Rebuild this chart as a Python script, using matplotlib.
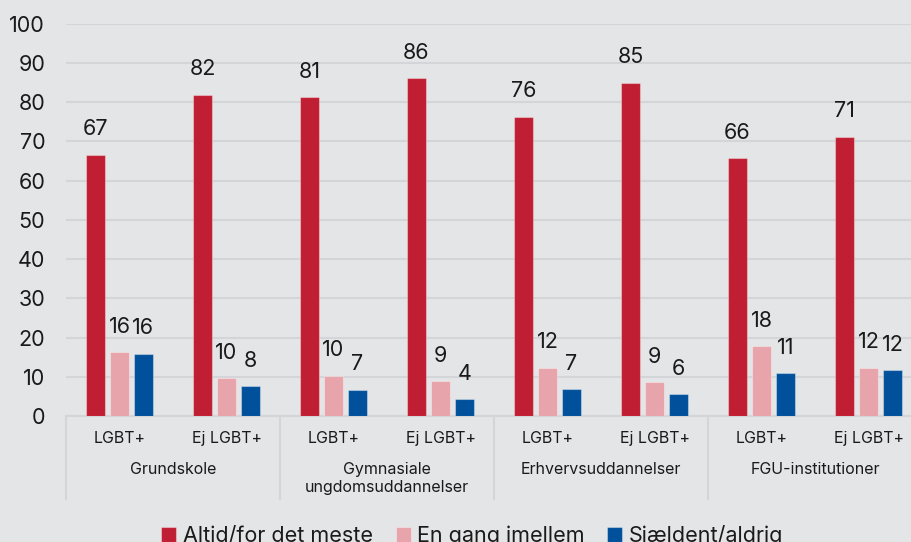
import matplotlib
matplotlib.use("Agg")
import matplotlib.pyplot as plt
import matplotlib.transforms as mtransforms
import numpy as np

plt.rcParams['font.family'] = ['Inter', 'DejaVu Sans']

# data
sub_labels = ["LGBT+", "Ej LGBT+"] * 4
groups = ["Grundskole", "Gymnasiale\nungdomsuddannelser", "Erhvervsuddannelser", "FGU-institutioner"]
series = ["Altid/for det meste", "En gang imellem", "Sjældent/aldrig"]
altid = [66.6, 81.9, 81.3, 86.1, 76.3, 85.0, 65.8, 71.2]
en_gang = [16.2, 9.6, 10.3, 8.9, 12.3, 8.6, 17.9, 12.3]
sjaeldent = [15.9, 7.7, 6.7, 4.3, 6.9, 5.6, 11.0, 11.6]
yticks = [0, 10, 20, 30, 40, 50, 60, 70, 80, 90, 100]

colors = ["#c01f33", "#e8a4ab", "#00509b"]
bg = "#e4e5e7"
grid_col = "#d4d5d8"

W, H = 911, 542
fig = plt.figure(figsize=(W/100, H/100), dpi=100, facecolor=bg)
ax = fig.add_axes([66/W, (H-416)/H, (W-66)/W, (416-23.7)/H])
ax.set_facecolor(bg)

x = np.arange(len(sub_labels))
bw = 0.178
step = 0.224
for i, (vals, c, name) in enumerate(zip([altid, en_gang, sjaeldent], colors, series)):
    bars = ax.bar(x + (i-1)*step, vals, width=bw, color=c, label=name,
                  edgecolor=(1, 1, 1, 0.35), linewidth=0.8, zorder=3)
    ax.bar_label(bars, labels=[f"{v:.0f}" for v in vals], padding=11,
                 fontsize=15.5, color="#1a1a1a")

ax.set_ylim(0, 100)
ax.set_xlim(-0.5, -0.5 + (W-66)/107)
ax.set_yticks(yticks)
ax.yaxis.grid(True, color=grid_col, linewidth=1.5, zorder=0)
ax.set_axisbelow(True)
for s in ["top", "right", "left"]:
    ax.spines[s].set_visible(False)
ax.spines["bottom"].set_color(grid_col)
ax.spines["bottom"].set_linewidth(1.5)
ax.tick_params(axis="y", length=0, pad=15, labelsize=15.5, labelcolor="#1a1a1a")
ax.set_xticks(x)
ax.set_xticklabels(sub_labels)
ax.tick_params(axis="x", length=0, pad=11, labelsize=11.5, labelcolor="#1a1a1a")

# group labels and separators
trans = mtransforms.blended_transform_factory(ax.transData, ax.transAxes)
for g, name in enumerate(groups):
    ax.text(2*g + 0.5, -0.118, name, transform=trans, ha="center", va="top",
            fontsize=11.5, color="#1a1a1a", linespacing=1.25)
for sx in np.arange(-0.5, 8, 2):
    ax.plot([sx, sx], [0, -(499-416)/392.3], transform=trans, color=grid_col,
            linewidth=1.5, clip_on=False)

fig.legend(loc="lower left", bbox_to_anchor=(142/W, -23/H), ncol=3, frameon=False,
           fontsize=15.5, handlelength=0.7, handleheight=0.7, handletextpad=0.3,
           columnspacing=1.05, labelcolor="#1a1a1a")

fig.savefig("out.png", dpi=100, facecolor=bg)
